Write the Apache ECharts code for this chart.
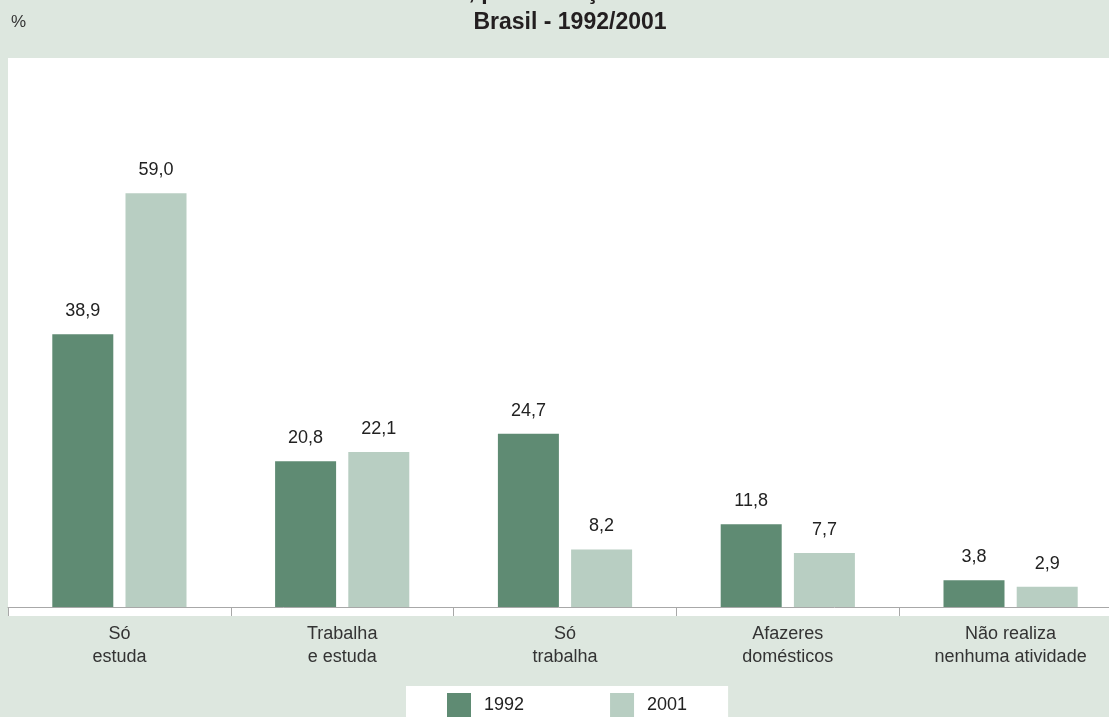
<!DOCTYPE html>
<html>
<head>
<meta charset="utf-8">
<script src="https://cdn.jsdelivr.net/npm/echarts@6/dist/echarts.min.js"></script>
<style>
  html, body { margin: 0; padding: 0; background: #dde7df; }
  #chart { width: 1109px; height: 717px; }
</style>
</head>
<body>
<div id="chart"></div>
<script>
// condição de atividade
const categories = ['Só\nestuda', 'Trabalha\ne estuda', 'Só\ntrabalha', 'Afazeres\ndomésticos', 'Não realiza\nnenhuma atividade'];
const values1992 = [38.9, 20.8, 24.7, 11.8, 3.8];
const values2001 = [59.0, 22.1, 8.2, 7.7, 2.9];
const seriesNames = ['1992', '2001'];

const FONT = "'Liberation Sans', Arial, sans-serif";
const chart = echarts.init(document.getElementById('chart'));

const barLabel = {
  show: true,
  position: 'top',
  distance: 14,
  fontFamily: FONT,
  fontSize: 18,
  color: '#222',
  formatter: p => p.value.toFixed(1).replace('.', ',')
};

const option = {
  backgroundColor: '#dde7df',
  animation: false,
  title: {
    text: 'de idade, por condição de atividade\nBrasil - 1992/2001',
    left: 565,
    textAlign: 'center',
    top: -27,
    textStyle: {
      fontFamily: FONT,
      fontSize: 23,
      fontWeight: 'bold',
      color: '#231f20',
      lineHeight: 30
    }
  },
  graphic: [
    // area branca do gráfico
    {
      type: 'rect',
      z: -10,
      shape: { x: 8, y: 58, width: 1101, height: 558 },
      style: { fill: '#ffffff' }
    },
    {
      type: 'text',
      left: 11,
      top: 14,
      style: { text: '%', font: '17px ' + FONT, fill: '#333' }
    }
  ],
  legend: {
    data: seriesNames,
    left: 406,
    top: 686,
    backgroundColor: '#ffffff',
    padding: [7, 41, 7, 41],
    itemWidth: 24,
    itemHeight: 24,
    itemGap: 86,
    icon: 'rect',
    textStyle: {
      fontFamily: FONT,
      fontSize: 18,
      color: '#222',
      padding: [0, 0, 0, 8]
    }
  },
  grid: {
    left: 8,
    top: 58,
    width: 1114,
    bottom: 110,
    outerBoundsMode: 'none',
    containLabel: false
  },
  xAxis: {
    type: 'category',
    data: categories,
    axisLine: { lineStyle: { color: '#a8a8a8', width: 1 } },
    axisTick: { show: true, length: 9, lineStyle: { color: '#a8a8a8' } },
    axisLabel: {
      margin: 16,
      fontFamily: FONT,
      fontSize: 18,
      lineHeight: 23,
      color: '#333'
    }
  },
  yAxis: {
    type: 'value',
    min: 0,
    max: 78.3,
    show: false,
    splitLine: { show: false }
  },
  series: [
    {
      name: seriesNames[0],
      type: 'bar',
      data: values1992,
      barWidth: 61,
      barGap: '20%',
      itemStyle: { color: '#5f8b73' },
      label: barLabel
    },
    {
      name: seriesNames[1],
      type: 'bar',
      data: values2001,
      barWidth: 61,
      barGap: '20%',
      itemStyle: { color: '#b8cec2' },
      label: barLabel
    }
  ]
};

chart.setOption(option);
</script>
</body>
</html>
